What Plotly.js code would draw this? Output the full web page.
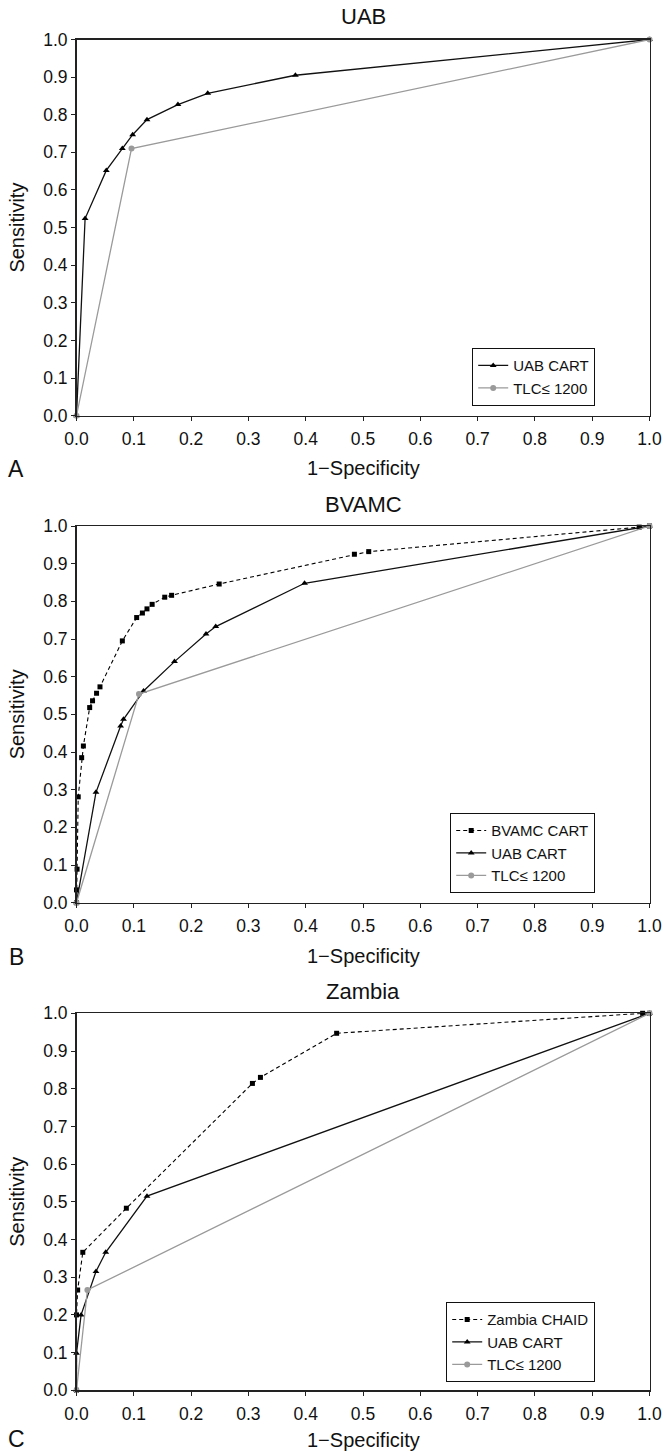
<!DOCTYPE html>
<html>
<head>
<meta charset="utf-8">
<script src="https://cdn.plot.ly/plotly-3.0.1.min.js"></script>
<style>html,body{margin:0;padding:0;background:#fff;}#chart{width:663px;height:1456px;}</style>
</head>
<body>
<div id="chart"></div>
<script>
// ---------- data ----------
const panelTitles = ["UAB", "BVAMC", "Zambia"];
const panelLetters = ["A", "B", "C"];
const xAxisTitle = "1\u2212Specificity";
const yAxisTitle = "Sensitivity";
const tickVals = [0, 0.1, 0.2, 0.3, 0.4, 0.5, 0.6, 0.7, 0.8, 0.9, 1.0];
const tickText = ["0.0", "0.1", "0.2", "0.3", "0.4", "0.5", "0.6", "0.7", "0.8", "0.9", "1.0"];

const nameBVAMC = "BVAMC CART";
const nameUAB = "UAB CART";
const nameTLC = "TLC\u2264 1200";
const nameZambia = "Zambia CHAID";

// Panel A: UAB
const uabA_x = [0, 0.015, 0.052, 0.080, 0.098, 0.123, 0.177, 0.229, 0.382, 1.0];
const uabA_y = [0, 0.524, 0.652, 0.710, 0.747, 0.787, 0.827, 0.857, 0.905, 1.0];
const tlcA_x = [0, 0.096, 1.0];
const tlcA_y = [0, 0.710, 1.0];

// Panel B: BVAMC
const bvamcB_x = [0, 0.0, 0.001, 0.003, 0.009, 0.012, 0.023, 0.028, 0.035, 0.041, 0.080, 0.105, 0.115, 0.123, 0.132, 0.154, 0.166, 0.249, 0.485, 0.510, 0.982, 1.0];
const bvamcB_y = [0, 0.034, 0.089, 0.281, 0.385, 0.416, 0.518, 0.536, 0.556, 0.573, 0.695, 0.757, 0.769, 0.780, 0.792, 0.811, 0.816, 0.846, 0.925, 0.932, 0.997, 1.0];
const uabB_x = [0, 0.034, 0.077, 0.082, 0.117, 0.171, 0.226, 0.243, 0.398, 1.0];
const uabB_y = [0, 0.293, 0.469, 0.487, 0.562, 0.640, 0.713, 0.733, 0.848, 1.0];
const tlcB_x = [0, 0.109, 1.0];
const tlcB_y = [0, 0.554, 1.0];

// Panel C: Zambia
const zamC_x = [0, 0.0, 0.002, 0.011, 0.087, 0.307, 0.321, 0.454, 0.988, 1.0];
const zamC_y = [0, 0.200, 0.266, 0.366, 0.483, 0.814, 0.830, 0.947, 1.0, 1.0];
const uabC_x = [0, 0.0, 0.008, 0.034, 0.051, 0.123, 1.0];
const uabC_y = [0, 0.098, 0.200, 0.315, 0.366, 0.515, 1.0];
const tlcC_x = [0, 0.019, 1.0];
const tlcC_y = [0, 0.266, 1.0];

// ---------- styling ----------
const W = 663, H = 1456;
const FONT = "Liberation Sans, Arial, Helvetica, sans-serif";
const GRAY = "#9a9a9a";
const px = v => v / W;
const py = v => 1 - v / H;

// plot boxes in pixels: [top, bottom]
const boxes = [[39.5, 415.7], [526, 902.7], [1013.3, 1390.3]];
const xLeft = 76.5, xRight = 649.5;

function dashedSquares(x, y, name, ax, lg) {
  return {x, y, name, type: "scatter", mode: "lines+markers", xaxis: ax[0], yaxis: ax[1], legend: lg,
    line: {color: "#000", width: 1.1, dash: "4px,3px"},
    marker: {symbol: "square", size: 5, color: "#000"}, cliponaxis: false};
}
function solidTriangles(x, y, name, ax, lg) {
  return {x, y, name, type: "scatter", mode: "lines+markers", xaxis: ax[0], yaxis: ax[1], legend: lg,
    line: {color: "#111", width: 1.3},
    marker: {symbol: "triangle-up", size: 6, color: "#000"}, cliponaxis: false};
}
function grayCircles(x, y, name, ax, lg) {
  return {x, y, name, type: "scatter", mode: "lines+markers", xaxis: ax[0], yaxis: ax[1], legend: lg,
    line: {color: GRAY, width: 1.3},
    marker: {symbol: "circle", size: 6, color: GRAY}, cliponaxis: false};
}

const data = [
  solidTriangles(uabA_x, uabA_y, nameUAB, ["x", "y"], "legend"),
  grayCircles(tlcA_x, tlcA_y, nameTLC, ["x", "y"], "legend"),
  dashedSquares(bvamcB_x, bvamcB_y, nameBVAMC, ["x2", "y2"], "legend2"),
  solidTriangles(uabB_x, uabB_y, nameUAB, ["x2", "y2"], "legend2"),
  grayCircles(tlcB_x, tlcB_y, nameTLC, ["x2", "y2"], "legend2"),
  dashedSquares(zamC_x, zamC_y, nameZambia, ["x3", "y3"], "legend3"),
  solidTriangles(uabC_x, uabC_y, nameUAB, ["x3", "y3"], "legend3"),
  grayCircles(tlcC_x, tlcC_y, nameTLC, ["x3", "y3"], "legend3")
];

function xAxis(i) {
  return {domain: [px(xLeft), px(xRight)], range: [0, 1], anchor: i === 0 ? "y" : "y" + (i + 1),
    tickvals: tickVals, ticktext: tickText, ticks: "outside", ticklen: 4, tickwidth: 1, tickcolor: "#222",
    ticklabelstandoff: 3, ticklabeloverflow: "allow",
    showline: true, linecolor: "#222", linewidth: 1.5, mirror: true, showgrid: false, zeroline: false,
    tickfont: {family: FONT, size: 17.5, color: "#111"}, fixedrange: true};
}
function yAxis(i) {
  const b = boxes[i];
  return {domain: [py(b[1]), py(b[0])], range: [0, 1], anchor: i === 0 ? "x" : "x" + (i + 1),
    tickvals: tickVals, ticktext: tickText, ticks: "outside", ticklen: 4, tickwidth: 1, tickcolor: "#222",
    ticklabeloverflow: "allow",
    showline: true, linecolor: "#222", linewidth: 1.5, mirror: true, showgrid: false, zeroline: false,
    tickfont: {family: FONT, size: 17.5, color: "#111"}, fixedrange: true};
}
function legendAt(bottomPx) {
  return {x: px(595), xanchor: "right", y: py(bottomPx), yanchor: "bottom",
    bgcolor: "#fff", bordercolor: "#111", borderwidth: 1.2,
    font: {family: FONT, size: 15, color: "#111"}, tracegroupgap: 0, itemwidth: 30};
}

const annotations = [];
const cx = (xLeft + xRight) / 2;
const titleY = [17, 504, 991];
const xTitleY = [468, 956, 1440];
const letterY = [469, 957, 1439];
boxes.forEach((b, i) => {
  annotations.push({text: panelTitles[i], xref: "paper", yref: "paper", x: px(cx), y: py(titleY[i]),
    xanchor: "center", yanchor: "middle", showarrow: false, font: {family: FONT, size: 22, color: "#111"}});
  annotations.push({text: xAxisTitle, xref: "paper", yref: "paper", x: px(cx), y: py(xTitleY[i]),
    xanchor: "center", yanchor: "middle", showarrow: false, font: {family: FONT, size: 20, color: "#111"}});
  annotations.push({text: panelLetters[i], xref: "paper", yref: "paper", x: px(16), y: py(letterY[i]),
    xanchor: "center", yanchor: "middle", showarrow: false, font: {family: FONT, size: 23, color: "#111"}});
  annotations.push({text: yAxisTitle, xref: "paper", yref: "paper", x: px(17), y: py((b[0] + b[1]) / 2),
    xanchor: "center", yanchor: "middle", textangle: -90, showarrow: false, font: {family: FONT, size: 20, color: "#111"}});
});

const layout = {
  width: W, height: H, margin: {l: 0, r: 0, t: 0, b: 0},
  paper_bgcolor: "#fff", plot_bgcolor: "#fff", showlegend: true,
  xaxis: xAxis(0), yaxis: yAxis(0), xaxis2: xAxis(1), yaxis2: yAxis(1), xaxis3: xAxis(2), yaxis3: yAxis(2),
  legend: legendAt(406), legend2: legendAt(893), legend3: legendAt(1382),
  annotations
};

Plotly.newPlot("chart", data, layout, {displayModeBar: false, staticPlot: true});
</script>
</body>
</html>
